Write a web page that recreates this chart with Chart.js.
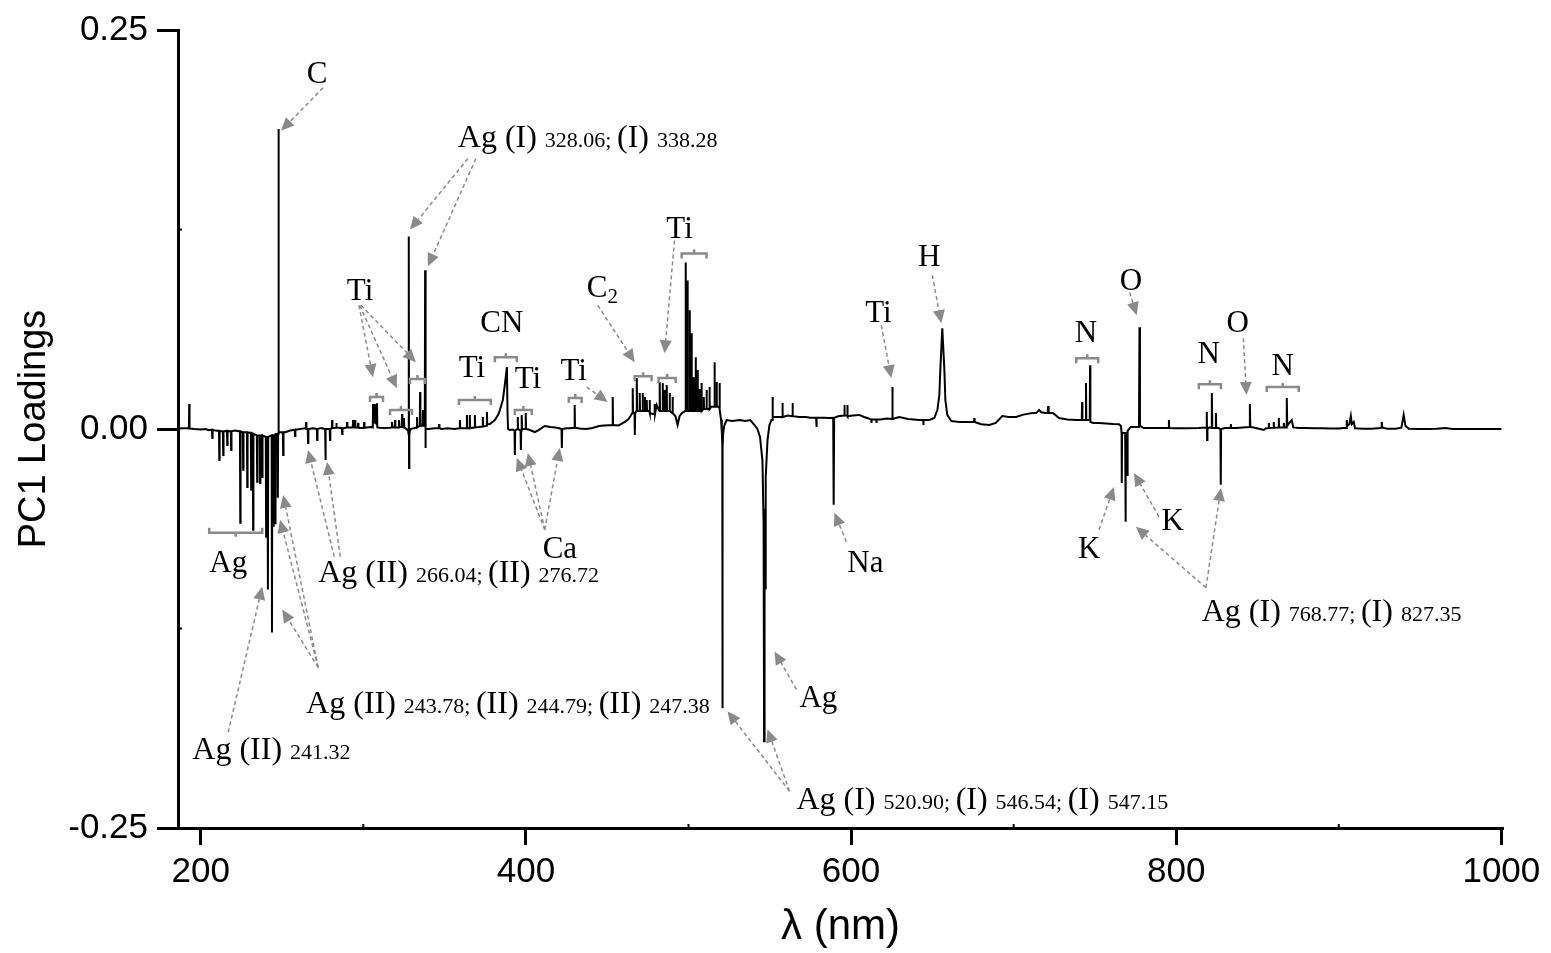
<!DOCTYPE html>
<html>
<head>
<meta charset="utf-8">
<script src="https://cdn.jsdelivr.net/npm/chart.js@4.4.1/dist/chart.umd.min.js"></script>
<style>
  body { margin: 0; background: #fff; }
  canvas { display: block; }
</style>
</head>
<body>
<canvas id="pc1-chart" width="1551" height="953"></canvas>
<script>
// PC1 loadings, as [wavelength (nm), loading]
const deepUv = [
  [186, 0.0003], [190, 0.0004], [192.7, 0.0004], [192.9, 0.0156], [193.1, 0.0003], [196, 0.0],
  [200, -0.0003], [203, 0.0], [205, -0.0008], [206.9, -0.0005], [207.1, -0.0056], [207.3, -0.0005],
  [209, -0.001], [211.2, -0.0012], [211.4, -0.0194], [211.6, -0.0012], [213.6, -0.0015], [213.8, -0.0163],
  [214.0, -0.0015], [216.1, -0.0012], [216.3, -0.0100], [216.5, -0.0012], [218.5, -0.0015], [218.7, -0.0131],
  [218.9, -0.0015], [221.0, -0.0010], [224.1, -0.0015], [224.3, -0.0588], [224.5, -0.0015], [225.9, -0.0020],
  [226.1, -0.0256], [226.3, -0.0020], [228.4, -0.0020], [228.6, -0.0363], [228.8, -0.0020], [230.8, -0.0025],
  [231.0, -0.0381], [231.2, -0.0025], [232.0, -0.0030], [232.2, -0.0631], [232.4, -0.0030], [234.5, -0.0040],
  [234.7, -0.0331], [234.9, -0.0040], [236.3, -0.0040], [236.5, -0.0338], [236.7, -0.0040], [237.6, -0.0040],
  [237.8, -0.0300], [238.0, -0.0040], [240.0, -0.0050], [240.2, -0.0675], [240.4, -0.0050], [241.1, -0.0050],
  [241.3, -0.1006], [241.5, -0.0050], [243.6, -0.0040], [243.8, -0.1275], [244.0, -0.0040], [244.6, -0.0040],
  [244.8, -0.0613], [245.0, -0.0040], [245.6, -0.0035], [245.8, -0.0590], [246.0, -0.0035], [247.2, -0.0030],
  [247.4, -0.0431], [247.6, -0.0030], [247.8, -0.0020], [247.9, 0.1880], [248.0, -0.0020], [250.5, -0.0020],
  [250.7, -0.0163], [250.9, -0.0020]
];

const nearUv = [
  [252, -0.002], [255, -0.001], [257.8, -0.0005], [258.0, -0.0044], [258.2, -0.0005], [261, 0.0],
  [264.6, 0.0005], [264.8, 0.0044], [265.0, 0.0], [265.8, 0.0], [266.0, -0.0088], [266.2, 0.0],
  [269, 0.0005], [271.4, 0.0], [271.6, -0.0069], [271.8, 0.0], [274, 0.0006], [276.5, 0.0],
  [276.7, -0.0194], [276.9, 0.0], [279.3, 0.0], [279.5, -0.0069], [279.7, 0.0], [280.6, 0.0005],
  [280.8, 0.0056], [281.0, 0.0005], [283.2, 0.0008], [283.4, 0.0038], [283.6, 0.0008], [285, 0.0008],
  [286.8, 0.0005], [287.0, -0.0031], [287.2, 0.0005], [288, 0.0005], [289.8, 0.001], [290.0, 0.0044],
  [290.2, 0.001], [291, 0.001], [293.5, 0.001], [293.7, 0.0056], [293.9, 0.001], [294.7, 0.001],
  [294.9, 0.0056], [295.1, 0.001], [296.6, 0.0008], [296.8, 0.0038], [297.0, 0.0008], [298, 0.0006],
  [300.3, 0.0008], [300.5, 0.0044], [300.7, 0.0008], [302, 0.001], [305.0, 0.0012], [305.8, 0.001],
  [306.0, 0.0156], [306.2, 0.004], [307.0, 0.004], [307.2, 0.0156], [307.4, 0.004], [308.2, 0.003],
  [308.4, 0.0162], [308.6, 0.001], [310, 0.0008], [313, 0.0006], [316, 0.0008], [317.4, 0.001],
  [317.6, 0.0044], [317.8, 0.001], [319.3, 0.001], [319.5, 0.0056], [319.7, 0.001], [321.7, 0.001],
  [321.9, 0.0056], [322.1, 0.001], [323.6, 0.0015], [323.8, 0.0094], [324.0, 0.0015], [324.8, 0.001],
  [325.0, 0.0069], [325.2, 0.001], [326.5, 0.0], [327.5, -0.001], [327.9, -0.004], [328.0, 0.1206],
  [328.1, -0.0244], [328.3, -0.003], [329, 0.0], [331, 0.0005], [332.8, 0.001], [333.0, 0.0075],
  [333.2, 0.001], [334.7, 0.002], [334.9, 0.0231], [335.1, 0.002], [336.5, 0.002], [336.7, 0.0119],
  [336.9, 0.002], [337.8, 0.002], [338.0, 0.0994], [338.2, -0.0119], [338.4, 0.0], [340, 0.0],
  [344, 0.0005], [346.4, 0.0005], [346.6, 0.0031], [346.8, 0.0005], [348, 0.0], [352, 0.0005],
  [356, 0.0], [359.2, 0.0005], [359.4, 0.0056], [359.6, 0.0005], [362, 0.0005], [363.5, 0.0005],
  [363.7, 0.0088], [363.9, 0.0005], [365.3, 0.0005], [365.5, 0.0088], [365.7, 0.0005], [368.4, 0.001],
  [368.6, 0.0088], [368.8, 0.001], [371, 0.0012], [373.3, 0.0015], [373.5, 0.0075], [373.7, 0.0015],
  [375.8, 0.002], [376.0, 0.0106], [376.2, 0.003], [377.8, 0.0031], [380.9, 0.0056], [383, 0.009],
  [384.0, 0.0119], [385.8, 0.0181], [387.0, 0.0275], [388.3, 0.0388], [388.7, 0.01], [389.0, 0.0],
  [390, -0.0006], [392, -0.0003], [393.0, -0.001], [393.2, -0.0163], [393.4, -0.001], [394.8, 0.0],
  [395.0, 0.0075], [395.2, 0.0], [396.7, -0.001], [396.9, -0.0131], [397.1, -0.001], [397.3, 0.0],
  [397.5, 0.0088], [397.7, 0.0], [399.7, 0.0], [399.9, 0.01], [400.1, 0.0], [402, -0.0005],
  [405.5, -0.0019], [408, -0.0005], [411.6, 0.0019], [415, 0.0012], [418, 0.001], [420, 0.0006],
  [421.9, 0.0], [422.1, -0.0119], [422.3, 0.0], [425, 0.0005], [427, 0.0005], [429.8, 0.0008],
  [430.0, 0.015], [430.2, 0.0008], [433, 0.0003], [437, 0.0], [441, 0.0006], [445, 0.0019]
];

const visible = [
  [448, 0.0022], [453.2, 0.0025], [453.4, 0.02], [453.6, 0.0025], [457, 0.0022], [460.8, 0.0044],
  [463, 0.006], [465.5, 0.01], [465.7, 0.0256], [465.9, 0.01], [466.8, 0.01], [467.0, -0.0038],
  [467.2, 0.01], [468.0, 0.0113], [468.2, 0.0319], [468.4, 0.0113], [469.8, 0.0113], [470.0, 0.0225],
  [470.2, 0.0113], [471.6, 0.0113], [471.8, 0.0225], [472.0, 0.0113], [473.0, 0.0113], [473.2, 0.02],
  [473.4, 0.0113], [474.1, 0.0113], [474.3, 0.0181], [474.5, 0.0113], [475.9, 0.0113], [476.1, 0.0181],
  [476.3, 0.01], [478, 0.0094], [479.0, 0.0094], [479.2, 0.0156], [479.4, 0.0094], [480.4, 0.015],
  [482.1, 0.0113], [482.3, 0.0294], [482.5, 0.0113], [483.9, 0.0113], [484.1, 0.0288], [484.3, 0.0113],
  [485.2, 0.0113], [485.4, 0.0244], [485.6, 0.0113], [486.4, 0.0113], [486.6, 0.0275], [486.8, 0.0113],
  [488.2, 0.0113], [488.4, 0.0225], [488.6, 0.0113], [490.0, 0.01], [490.2, 0.02], [490.4, 0.01],
  [492, 0.008], [493.3, 0.0025], [494.5, 0.008], [496, 0.01], [498.0, 0.0113], [498.2, 0.1044],
  [498.4, 0.0113], [499.2, 0.0113], [499.4, 0.0931], [499.6, 0.0113], [500.5, 0.0113], [500.7, 0.0744],
  [500.9, 0.0113], [501.7, 0.0113], [501.9, 0.06], [502.1, 0.0113], [503.0, 0.0113], [503.2, 0.0325],
  [503.4, 0.0113], [504.2, 0.0113], [504.4, 0.045], [504.6, 0.0113], [505.4, 0.0113], [505.6, 0.0369],
  [505.8, 0.0113], [506.6, 0.0113], [506.8, 0.025], [507.0, 0.0113], [507.8, 0.0113], [508.0, 0.0288],
  [508.2, 0.0113], [509.2, 0.0125], [509.4, 0.02], [509.6, 0.0125], [511.0, 0.0125], [511.1, 0.0244],
  [511.3, 0.0125], [512.8, 0.0125], [512.9, 0.0263], [513.1, 0.0125], [514, 0.014], [515.8, 0.014],
  [516.0, 0.0419], [516.2, 0.014], [517.1, 0.014], [517.3, 0.0294], [517.5, 0.014], [518.9, 0.014],
  [519.1, 0.0288], [519.3, 0.012], [520, 0.006], [520.5, -0.002], [520.8, -0.01], [520.9, -0.175],
  [521.0, -0.012], [521.3, -0.003], [522, 0.002], [523.4, 0.0056], [527, 0.005], [531.4, 0.0056],
  [535, 0.005], [538, 0.0056], [540.6, 0.0025], [542.4, 0.0], [544.0, -0.005], [545.5, -0.02],
  [546.2, -0.06], [546.5, -0.1956], [546.8, -0.05], [547.1, -0.1], [547.5, -0.03], [548.6, -0.007],
  [549.8, 0.0025], [551.0, 0.0056], [551.5, 0.0056], [551.7, 0.02], [551.9, 0.0075], [554, 0.0075],
  [557.6, 0.0075], [557.8, 0.0163], [558.0, 0.0075], [561, 0.0085], [563.8, 0.008], [564.0, 0.0163],
  [564.2, 0.008], [568.3, 0.0075], [572, 0.0075], [575, 0.007], [578.5, 0.007], [578.7, 0.0013],
  [578.9, 0.007], [583, 0.007], [586.7, 0.0069], [589.0, 0.007], [589.3, -0.0475], [589.6, 0.007],
  [592, 0.008], [595.7, 0.0085], [595.9, 0.015], [596.1, 0.0085], [597.5, 0.0085], [597.7, 0.015],
  [597.9, 0.008], [601, 0.0085], [605.1, 0.0088]
];

const nearIr = [
  [608, 0.0075], [610, 0.0069], [612.3, 0.006], [612.5, 0.0038], [612.7, 0.006], [614, 0.006],
  [615.4, 0.006], [615.6, 0.0038], [615.8, 0.006], [618, 0.006], [622, 0.0065], [625.2, 0.0063],
  [625.4, 0.0263], [625.6, 0.0063], [629.7, 0.0075], [635, 0.0063], [642.0, 0.0056], [644.3, 0.0056],
  [644.5, 0.0025], [644.7, 0.0056], [648, 0.0056], [651.2, 0.0069], [653.1, 0.0119], [654.3, 0.0213],
  [654.9, 0.0369], [656.1, 0.0631], [657.4, 0.0369], [658.0, 0.0181], [659.2, 0.0088], [661.7, 0.005],
  [666.6, 0.0044], [670, 0.0044], [675.6, 0.0044], [675.8, 0.0069], [676.0, 0.0044], [680, 0.003],
  [685.0, 0.0025], [689, 0.0038], [693.0, 0.0081], [697, 0.0075], [701.5, 0.0075], [706, 0.009],
  [711.4, 0.01], [714, 0.01], [715.6, 0.0119], [717, 0.0105], [719.5, 0.01], [720.9, 0.01],
  [721.2, 0.0144], [721.5, 0.01], [724.2, 0.01], [727.9, 0.0069], [733, 0.006], [738.4, 0.0056],
  [741.9, 0.0056], [742.1, 0.0169], [742.3, 0.0056], [744.3, 0.0056], [744.5, 0.0288], [744.7, 0.0056],
  [746.8, 0.0056], [747.0, 0.04], [747.2, 0.0044], [749, 0.0038], [752.5, 0.0038], [757, 0.0035],
  [761, 0.0031], [764.8, 0.003], [766.0, 0.0019], [766.4, -0.0025], [766.5, -0.0338], [766.7, -0.0025],
  [768.6, -0.0025], [768.8, -0.0581], [769.0, -0.0025], [769.7, -0.0025], [769.9, -0.0288], [770.1, -0.0013],
  [772, 0.0013], [775, 0.0013], [777.1, 0.0013], [777.4, 0.0638], [777.7, 0.0019], [780, 0.0006],
  [783.2, 0.0006], [788, 0.0006], [795.3, 0.0006], [795.5, 0.0056], [795.7, 0.0006], [800, 0.0004],
  [806, 0.0005], [813.9, 0.0006], [816, 0.0008], [818.6, 0.0008], [818.8, 0.0106], [819.0, -0.0069],
  [819.2, 0.0], [820.5, 0.001], [821.6, 0.0006], [821.9, 0.0225], [822.2, 0.0006], [824.2, 0.0006],
  [824.4, 0.01], [824.6, 0.0006], [826, 0.0006], [827.2, 0.0], [827.4, -0.035], [827.6, 0.0],
  [830, 0.0006], [833.4, 0.0008], [833.6, 0.0031], [833.8, 0.0008], [837, 0.0006], [841, 0.001],
  [845.0, 0.0013], [845.3, 0.0156], [845.6, 0.0013], [849, 0.0006], [853.9, -0.0006], [855, 0.0003],
  [856.8, 0.0006], [857.0, 0.0038], [857.2, 0.0006], [859.8, 0.0008], [860.0, 0.0044], [860.2, 0.0008],
  [862.9, 0.001], [863.1, 0.0069], [863.3, 0.001], [866.0, 0.001], [866.2, 0.0038], [866.6, 0.001],
  [867.8, 0.001], [868.0, 0.0194], [868.3, 0.002], [869, 0.003], [871.1, 0.0056], [872, 0.001],
  [875.4, 0.0006], [880, 0.0006], [885, 0.0004], [890, 0.0004], [895, 0.0003], [900, 0.0003],
  [903, 0.0006], [904.7, 0.0006], [904.9, 0.0056], [905.1, 0.002], [906.5, 0.003], [907.4, 0.0081],
  [908, 0.003], [909.2, 0.0044], [910, 0.0004], [915, 0.0002], [920, 0.0002], [924, 0.0004],
  [926.2, 0.0008], [926.4, 0.0044], [926.8, 0.0008], [930, 0.0002], [935, 0.0002], [938.5, 0.0008],
  [939.9, 0.0088], [941, 0.002], [943, 0.0002], [950, 0.0], [955, 0.0], [960, 0.0002],
  [965.7, 0.0006], [970, 0.0], [980, 0.0], [990, 0.0], [1000, 0.0]
];

const xTicks = [200, 400, 600, 800, 1000];
const xMinorTicks = [300, 500, 700, 900];
const yTicks = [-0.25, 0, 0.25];
const yMinorTicks = [-0.125, 0.125];

// element labels: [text, wavelength, loading] (centre, baseline)
const elementLabels = [
  ['C', 271.6, 0.2169], ['Ti', 298.0, 0.0806], ['CN', 385.2, 0.0606], ['Ti', 366.8, 0.0325],
  ['Ti', 401.2, 0.0256], ['Ti', 429.4, 0.0306], ['Ti', 494.5, 0.1194], ['Ti', 616.8, 0.0669],
  ['H', 648.0, 0.1019], ['N', 744.5, 0.0544], ['O', 772.2, 0.0869], ['N', 820.0, 0.0413],
  ['O', 837.8, 0.0606], ['N', 865.5, 0.0338], ['Ag', 216.9, -0.0894], ['Ca', 420.9, -0.0806],
  ['Na', 608.8, -0.0894], ['Ag', 579.9, -0.1744], ['K', 746.4, -0.0806], ['K', 797.9, -0.0631]
];

// Ag line assignments, big and small text alternating: [parts, wavelength, loading] (left, baseline)
const lineLabels = [
  [['Ag (I) ', '328.06; ', '(I) ', '338.28'], 358.1, 0.1769],
  [['Ag (II) ', '266.04; ', '(II) ', '276.72'], 272.2, -0.0956],
  [['Ag (II) ', '243.78; ', '(II) ', '244.79; ', '(II) ', '247.38'], 264.8, -0.1781],
  [['Ag (II) ', '241.32'], 194.8, -0.2069],
  [['Ag (I) ', '520.90; ', '(I) ', '546.54; ', '(I) ', '547.15'], 566.4, -0.2381],
  [['Ag (I) ', '768.77; ', '(I) ', '827.35'], 815.7, -0.1206]
];

const c2Label = [437.4, 0.0825];

// dashed arrows: [from nm, from loading, to nm, to loading]
const arrows = [
  [275.2, 0.2138, 249.4, 0.1869],
  [364.3, 0.1694, 328.7, 0.1250], [369.2, 0.1694, 339.7, 0.1019],
  [297.3, 0.0775, 305.9, 0.0325], [297.8, 0.0775, 320.6, 0.0256], [298.5, 0.0775, 332.3, 0.0419],
  [437.4, 0.0263, 450.3, 0.0169],
  [444.2, 0.0775, 466.9, 0.0419],
  [491.4, 0.1181, 485.3, 0.0475],
  [618.6, 0.0650, 624.7, 0.0319],
  [650.0, 0.0963, 655.5, 0.0663],
  [771.4, 0.0856, 775.7, 0.0713],
  [841.3, 0.0569, 843.2, 0.0213],
  [282.1, -0.0800, 266.0, -0.0131], [285.8, -0.0800, 277.7, -0.0206],
  [272.2, -0.1494, 250.7, -0.0413], [272.2, -0.1494, 248.8, -0.0569], [272.2, -0.1494, 250.1, -0.1131],
  [216.9, -0.1900, 237.8, -0.0988],
  [411.6, -0.0631, 394.4, -0.0181], [411.6, -0.0631, 401.2, -0.0150], [411.6, -0.0631, 420.8, -0.0119],
  [597.1, -0.0706, 589.8, -0.0525],
  [566.4, -0.1631, 552.9, -0.1394],
  [562.1, -0.2269, 524.0, -0.1769], [562.1, -0.2269, 548.6, -0.1881],
  [752.5, -0.0631, 761.7, -0.0363],
  [789.4, -0.0550, 774.0, -0.0275],
  [818.3, -0.0994, 775.2, -0.0613], [818.3, -0.0994, 827.5, -0.0369]
];

// brackets: [start nm, end nm, loading, opens upward]
const brackets = [
  [304.1, 312.1, 0.0200, false], [316.4, 329.9, 0.0119, false], [328.7, 337.9, 0.0313, false],
  [380.9, 394.4, 0.0450, false], [358.8, 378.4, 0.0181, false], [393.2, 403.6, 0.0119, false],
  [426.4, 434.3, 0.0194, false], [466.9, 477.3, 0.0331, false], [481.6, 492.1, 0.0319, false],
  [495.8, 511.1, 0.1100, false], [738.5, 752.0, 0.0444, false], [813.9, 827.5, 0.0281, false],
  [855.7, 875.4, 0.0263, false], [205.2, 237.8, -0.0650, true]
];

const serif = '"Liberation Serif", "Times New Roman", serif';
const sans = '"Liberation Sans", Arial, sans-serif';
const grey = '#8a8a8a';

const annotationPlugin = {
  id: 'annotations',
  afterDatasetsDraw(chart) {
    const ctx = chart.ctx;
    const xs = chart.scales.x;
    const ys = chart.scales.y;
    const px = v => xs.getPixelForValue(v);
    const py = v => ys.getPixelForValue(v);
    ctx.save();

    // minor ticks, pointing in
    ctx.strokeStyle = '#000';
    ctx.lineWidth = 2;
    xMinorTicks.forEach(v => {
      ctx.beginPath();
      ctx.moveTo(px(v), ys.bottom);
      ctx.lineTo(px(v), ys.bottom - 4);
      ctx.stroke();
    });
    yMinorTicks.forEach(v => {
      ctx.beginPath();
      ctx.moveTo(xs.left, py(v));
      ctx.lineTo(xs.left + 4, py(v));
      ctx.stroke();
    });

    // brackets
    ctx.strokeStyle = grey;
    ctx.lineWidth = 2.5;
    brackets.forEach(([a, b, v, up]) => {
      const x1 = px(a), x2 = px(b), y = py(v), d = up ? -1 : 1;
      ctx.beginPath();
      ctx.moveTo(x1, y + 5 * d);
      ctx.lineTo(x1, y);
      ctx.lineTo(x2, y);
      ctx.lineTo(x2, y + 5 * d);
      ctx.moveTo((x1 + x2) / 2, y);
      ctx.lineTo((x1 + x2) / 2, y - 4 * d);
      ctx.stroke();
    });

    // arrows
    ctx.fillStyle = grey;
    ctx.lineWidth = 1.5;
    arrows.forEach(([n1, v1, n2, v2]) => {
      const x1 = px(n1), y1 = py(v1), x2 = px(n2), y2 = py(v2);
      const ang = Math.atan2(y2 - y1, x2 - x1);
      const bx = x2 - 13 * Math.cos(ang);
      const by = y2 - 13 * Math.sin(ang);
      ctx.setLineDash([4, 3]);
      ctx.beginPath();
      ctx.moveTo(x1, y1);
      ctx.lineTo(bx, by);
      ctx.stroke();
      ctx.setLineDash([]);
      ctx.beginPath();
      ctx.moveTo(x2, y2);
      ctx.lineTo(bx - 6 * Math.sin(ang), by + 6 * Math.cos(ang));
      ctx.lineTo(bx + 6 * Math.sin(ang), by - 6 * Math.cos(ang));
      ctx.closePath();
      ctx.fill();
    });

    // labels
    ctx.fillStyle = '#000';
    ctx.textBaseline = 'alphabetic';
    ctx.textAlign = 'center';
    ctx.font = '31px ' + serif;
    elementLabels.forEach(([t, n, v]) => ctx.fillText(t, px(n), py(v)));

    ctx.textAlign = 'left';
    lineLabels.forEach(([parts, n, v]) => {
      let x = px(n);
      parts.forEach((p, i) => {
        ctx.font = (i % 2 ? '22px ' : '32px ') + serif;
        ctx.fillText(p, x, py(v));
        x += ctx.measureText(p).width;
      });
    });

    ctx.font = '31px ' + serif;
    const cx = px(c2Label[0]), cy = py(c2Label[1]);
    ctx.fillText('C', cx, cy);
    const cw = ctx.measureText('C').width;
    ctx.font = '21px ' + serif;
    ctx.fillText('2', cx + cw, cy + 6);

    ctx.restore();
  }
};

const spectrum = [...deepUv, ...nearUv, ...visible, ...nearIr].map(([x, y]) => ({ x, y }));

const ctx = document.getElementById('pc1-chart').getContext('2d');
new Chart(ctx, {
  type: 'line',
  data: {
    datasets: [{
      data: spectrum,
      borderColor: '#000',
      borderWidth: 2,
      pointRadius: 0,
      tension: 0,
      fill: false
    }]
  },
  options: {
    responsive: false,
    animation: false,
    devicePixelRatio: 1,
    layout: { padding: { left: 0, right: 48, top: 29, bottom: 0 } },
    plugins: {
      legend: { display: false },
      tooltip: { enabled: false }
    },
    scales: {
      x: {
        type: 'linear',
        min: 186,
        max: 1001,
        afterFit: s => { s.height = 125; },
        afterBuildTicks: s => { s.ticks = xTicks.map(v => ({ value: v })); },
        grid: { drawOnChartArea: false, drawTicks: true, tickLength: 17, tickWidth: 3, tickColor: '#000' },
        border: { display: true, color: '#000', width: 3 },
        ticks: {
          color: '#000',
          font: { family: sans, size: 35 },
          padding: 6,
          maxRotation: 0,
          callback: v => String(v)
        },
        title: {
          display: true,
          text: 'λ (nm)',
          color: '#000',
          font: { family: sans, size: 42 },
          padding: { top: 0, bottom: 0 }
        }
      },
      y: {
        type: 'linear',
        min: -0.25,
        max: 0.25,
        afterFit: s => { s.width = 178; },
        afterBuildTicks: s => { s.ticks = yTicks.map(v => ({ value: v })); },
        grid: { drawOnChartArea: false, drawTicks: true, tickLength: 21, tickWidth: 3, tickColor: '#000' },
        border: { display: true, color: '#000', width: 3 },
        ticks: {
          color: '#000',
          font: { family: sans, size: 35 },
          padding: 9,
          callback: v => v.toFixed(2)
        },
        title: {
          display: true,
          text: 'PC1 Loadings',
          color: '#000',
          font: { family: sans, size: 38 },
          padding: { top: 12, bottom: 0 }
        }
      }
    }
  },
  plugins: [annotationPlugin]
});
</script>
</body>
</html>
